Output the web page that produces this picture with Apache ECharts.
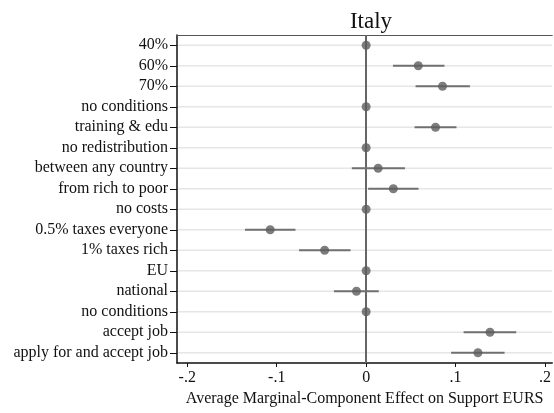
<!DOCTYPE html>
<html><head><meta charset="utf-8">
<script src="https://cdn.jsdelivr.net/npm/echarts@6/dist/echarts.min.js"></script>
<style>html,body{margin:0;padding:0;background:#fff}#c{width:554px;height:413px}</style>
</head><body><div id="c"></div>
<script>
var categories = ["40%","60%","70%","no conditions","training & edu","no redistribution","between any country","from rich to poor","no costs","0.5% taxes everyone","1% taxes rich","EU","national","no conditions","accept job","apply for and accept job"];
var estimates = [0, 0.0583, 0.0854, 0, 0.0776, 0, 0.0134, 0.0304, 0, -0.1073, -0.0464, 0, -0.0108, 0, 0.1385, 0.125];
var ciLow = [null, 0.030, 0.0553, null, 0.0542, null, -0.016, 0.0022, null, -0.1355, -0.075, null, -0.036, null, 0.109, 0.095];
var ciHigh = [null, 0.0876, 0.116, null, 0.101, null, 0.0434, 0.0586, null, -0.079, -0.0174, null, 0.0141, null, 0.1678, 0.1548];
var tickValues = [-0.2, -0.1, 0, 0.1, 0.2];
var tickLabels = ["-.2", "-.1", "0", ".1", ".2"];
var titleText = "Italy";
var xTitle = "Average Marginal-Component Effect on Support EURS";

var font = "'Liberation Serif','Times New Roman',serif";
var chart = echarts.init(document.getElementById('c'), null, {renderer: 'canvas'});
var ciData = [];
for (var i = 0; i < categories.length; i++) {
  if (ciLow[i] !== null) ciData.push([ciLow[i], ciHigh[i], i]);
}
var pointData = estimates.map(function (v, i) { return [v, i]; });
var gridData = categories.map(function (c, i) { return [i]; });

chart.setOption({
  animation: false,
  backgroundColor: '#fff',
  title: {
    text: titleText, left: 366, top: 5, textAlign: 'center',
    textStyle: {fontFamily: font, fontSize: 23, fontWeight: 'normal', color: '#111'}
  },
  grid: {left: 177, right: 0, top: 35, bottom: 50, containLabel: false},
  xAxis: [{
    type: 'value', min: -0.2115, max: 0.2081, position: 'bottom',
    axisLine: {show: true, onZero: false, lineStyle: {color: '#111', width: 1.5}},
    axisTick: {show: true, length: 4, customValues: tickValues, lineStyle: {color: '#111'}},
    axisLabel: {customValues: tickValues, fontFamily: font, fontSize: 16, color: '#111', margin: 7,
      formatter: function (v) { var k = tickValues.indexOf(Math.round(v * 10) / 10); return k >= 0 ? tickLabels[k] : ''; }},
    splitLine: {show: false},
    name: xTitle, nameLocation: 'middle', nameGap: 26,
    nameTextStyle: {fontFamily: font, fontSize: 16, color: '#111'}
  }, {
    type: 'value', min: -0.2115, max: 0.2081, position: 'top',
    axisLine: {show: true, onZero: false, lineStyle: {color: '#555', width: 1}},
    axisTick: {show: false}, axisLabel: {show: false}, splitLine: {show: false}
  }],
  yAxis: {
    type: 'category', data: categories, inverse: true, boundaryGap: true, position: 'left',
    axisLine: {show: true, onZero: false, lineStyle: {color: '#111', width: 1.5}},
    axisTick: {show: true, alignWithLabel: true, interval: 0, length: 7, lineStyle: {color: '#111'}},
    axisLabel: {interval: 0, fontFamily: font, fontSize: 16, color: '#111', margin: 9},
    splitLine: {show: false}
  },
  series: [{
    type: 'custom', data: gridData, z: 1, silent: true,
    renderItem: function (params, api) {
      var y = api.coord([0, api.value(0)])[1];
      var cs = params.coordSys;
      return {type: 'line', shape: {x1: cs.x + 1, y1: y, x2: cs.x + cs.width, y2: y},
        style: {stroke: '#e6e6e6', lineWidth: 1.5}};
    },
    encode: {y: 0}
  }, {
    type: 'custom', data: ciData, z: 3, silent: true,
    renderItem: function (params, api) {
      var p1 = api.coord([api.value(0), api.value(2)]);
      var p2 = api.coord([api.value(1), api.value(2)]);
      return {type: 'line', shape: {x1: p1[0], y1: p1[1], x2: p2[0], y2: p2[1]},
        style: {stroke: '#707070', lineWidth: 1.8}};
    },
    encode: {x: [0, 1], y: 2}
  }, {
    type: 'scatter', data: pointData, z: 5, symbol: 'circle', symbolSize: 9,
    itemStyle: {color: '#5c5c5c'},
    markLine: {
      silent: true, symbol: ['none', 'none'], label: {show: false}, z: 2,
      lineStyle: {color: '#666', width: 2, type: 'solid'},
      data: [{xAxis: 0}]
    }
  }]
});
</script></body></html>
